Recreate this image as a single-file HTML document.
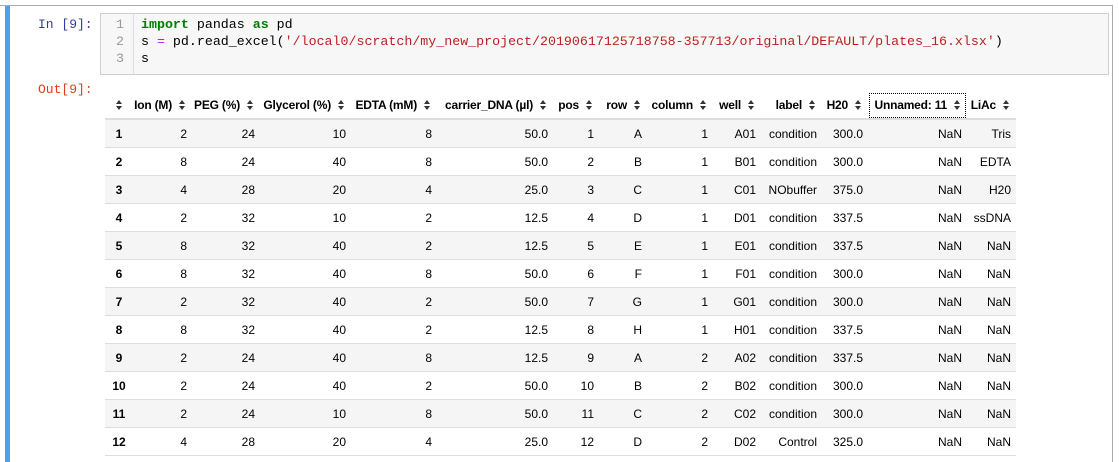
<!DOCTYPE html>
<html><head><meta charset="utf-8">
<style>
body{margin:0;width:1119px;height:462px;overflow:hidden;background:#fff;position:relative;font-family:"Liberation Sans",Arial,sans-serif;}
.topline{position:absolute;left:0;top:5px;width:1113px;height:1px;background:#ababab;}
.rightline{position:absolute;left:1112px;top:5px;width:1px;height:457px;background:#ababab;}
.bluebar{position:absolute;left:5px;top:6px;width:5px;height:456px;background:#42a5f5;}
.prompt{position:absolute;font-family:"Liberation Mono",monospace;font-size:13px;}
.code{position:absolute;left:100px;top:13px;width:1007px;height:60px;background:#f7f7f7;border:1px solid #cfcfcf;font-family:"Liberation Mono",monospace;font-size:13.3px;}
.gutter{position:absolute;left:0;top:0;width:32px;height:60px;border-right:1px solid #ddd;background:#f7f7f7;}
.ln{position:absolute;right:9px;color:#999;}
.cl{position:absolute;left:40px;white-space:pre;color:#000;}
.kw{color:#008000;font-weight:bold}.op{color:#aa22ff}.st{color:#ba2121}
table{position:absolute;left:105px;top:92px;border-collapse:collapse;table-layout:fixed;width:911px;font-size:12px;color:#000;}
th{font-weight:bold;text-align:right;height:26px;padding:0 7px 0 0;white-space:nowrap;border-bottom:2px solid #ddd;letter-spacing:-0.2px;}
td{text-align:right;height:27px;padding:0 5px 0 0;border-bottom:1px solid #ddd;white-space:nowrap;}
tbody tr:nth-child(odd){background:#f5f5f5;}
td.idx{text-align:center;font-weight:bold;padding:0 0 0 3px;}
th.idxh{text-align:center;padding:0 0 0 3px;}
.si{display:inline-block;width:6px;height:10px;margin-left:7px;vertical-align:-1px;}
th.idxh .si{margin-left:0;}
th.focus{outline:1px dotted #000;outline-offset:-2px;}
</style></head><body>
<div class="topline"></div>
<div class="rightline"></div>
<div class="bluebar"></div>
<div class="prompt" style="left:38px;top:17px;color:#303f9f">In [9]:</div>
<div class="prompt" style="left:38px;top:82px;color:#d84315">Out[9]:</div>
<div class="code">
 <div class="gutter">
  <div class="ln" style="top:3px">1</div><div class="ln" style="top:20px">2</div><div class="ln" style="top:37px">3</div>
 </div>
 <div class="cl" style="top:3px"><span class="kw">import</span> pandas <span class="kw">as</span> pd</div>
 <div class="cl" style="top:20px">s <span class="op">=</span> pd.read_excel(<span class="st">'/local0/scratch/my_new_project/20190617125718758-357713/original/DEFAULT/plates_16.xlsx'</span>)</div>
 <div class="cl" style="top:37px">s</div>
</div>
<table id="tbl">
<colgroup><col style="width:25px"><col style="width:62px"><col style="width:68px"><col style="width:91px"><col style="width:86px"><col style="width:116px"><col style="width:46px"><col style="width:48px"><col style="width:66px"><col style="width:48px"><col style="width:61px"><col style="width:46px"><col style="width:99px"><col style="width:49px"></colgroup>
<thead><tr id="hdr"></tr></thead><tbody id="body"></tbody></table>
<script>
const headers=["","Ion (M)","PEG (%)","Glycerol (%)","EDTA (mM)","carrier_DNA (µl)","pos","row","column","well","label","H20","Unnamed: 11","LiAc"];
const rows=[
["1","2","24","10","8","50.0","1","A","1","A01","condition","300.0","NaN","Tris"],
["2","8","24","40","8","50.0","2","B","1","B01","condition","300.0","NaN","EDTA"],
["3","4","28","20","4","25.0","3","C","1","C01","NObuffer","375.0","NaN","H20"],
["4","2","32","10","2","12.5","4","D","1","D01","condition","337.5","NaN","ssDNA"],
["5","8","32","40","2","12.5","5","E","1","E01","condition","337.5","NaN","NaN"],
["6","8","32","40","8","50.0","6","F","1","F01","condition","300.0","NaN","NaN"],
["7","2","32","40","2","50.0","7","G","1","G01","condition","300.0","NaN","NaN"],
["8","8","32","40","2","12.5","8","H","1","H01","condition","337.5","NaN","NaN"],
["9","2","24","40","8","12.5","9","A","2","A02","condition","337.5","NaN","NaN"],
["10","2","24","40","2","50.0","10","B","2","B02","condition","300.0","NaN","NaN"],
["11","2","24","10","8","50.0","11","C","2","C02","condition","300.0","NaN","NaN"],
["12","4","28","20","4","25.0","12","D","2","D02","Control","325.0","NaN","NaN"]];
const icon='<svg class="si" viewBox="0 0 6 10"><path d="M3 0L6 4H0z M3 10L6 6H0z" fill="#333"/></svg>';
const hdr=document.getElementById('hdr');
headers.forEach((h,i)=>{
  const th=document.createElement('th');
  
  
  if(i===12) th.className='focus';
  if(i===0) th.className='idxh';
  th.innerHTML=h+icon;
  hdr.appendChild(th);
});
const body=document.getElementById('body');
rows.forEach(r=>{
  const tr=document.createElement('tr');
  
  
  r.forEach((v,i)=>{
    const td=document.createElement('td');
    
    
    if(i===0) td.className='idx';
    td.textContent=v;
    tr.appendChild(td);
  });
  body.appendChild(tr);
});
</script>
</body></html>
